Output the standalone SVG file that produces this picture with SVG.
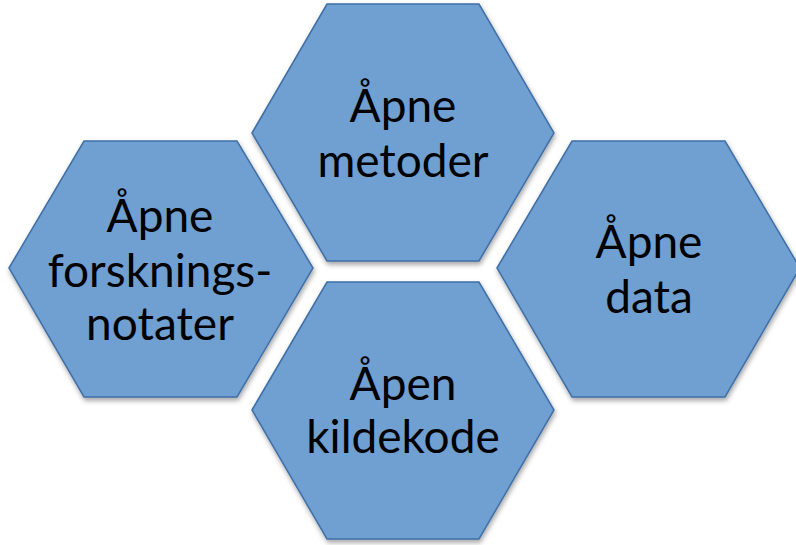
<svg xmlns="http://www.w3.org/2000/svg" width="796" height="545" viewBox="0 0 796 545">
<defs>
<filter id="sh" x="-10%" y="-10%" width="120%" height="125%">
<feDropShadow dx="1" dy="3" stdDeviation="2.5" flood-color="#000" flood-opacity="0.35"/>
</filter>
<style>
.hex{fill:#6f9fd1;stroke:#3f6fa6;stroke-width:1.5;filter:url(#sh)}
.t{font-family:Lato,"Noto Sans",sans-serif;font-size:46px;fill:#000;text-anchor:middle}
</style>
</defs>
<rect width="796" height="545" fill="#fff"/>
<g id="metoder">
<polygon class="hex" points="252,133 327,4 479,4 554,133 479,261 327,261"/>
<text class="t" x="403" y="122">Åpne</text>
<text class="t" x="403" y="177">metoder</text>
</g>
<g id="forskningsnotater">
<polygon class="hex" points="9,268 84,141 237,141 313,268 237,397 84,397"/>
<text class="t" x="160" y="232">Åpne</text>
<text class="t" x="160" y="287">forsknings-</text>
<text class="t" x="160" y="340">notater</text>
</g>
<g id="data">
<polygon class="hex" points="497,268 572,141 725,141 800,268 725,397 572,397"/>
<text class="t" x="649" y="258">Åpne</text>
<text class="t" x="649" y="313">data</text>
</g>
<g id="kildekode">
<polygon class="hex" points="252,410 327,282 479,282 554,410 479,539 327,539"/>
<text class="t" x="403" y="400">Åpen</text>
<text class="t" x="403" y="453">kildekode</text>
</g>
<g id="connectors"/>
</svg>
